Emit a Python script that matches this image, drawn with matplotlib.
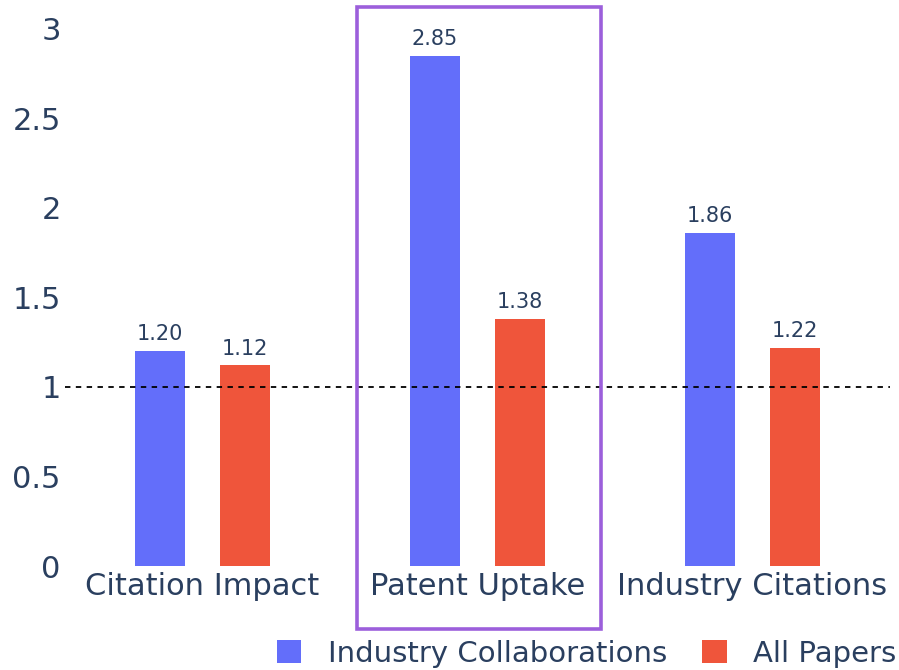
import matplotlib.pyplot as plt
from matplotlib.patches import Rectangle
import numpy as np

categories = ['Citation Impact', 'Patent Uptake', 'Industry Citations']
industry_collab = [1.20, 2.85, 1.86]
all_papers = [1.12, 1.38, 1.22]
series_names = ['Industry Collaborations', 'All Papers']
yticks = [0, 0.5, 1, 1.5, 2, 2.5, 3]
ytick_labels = ['0', '0.5', '1', '1.5', '2', '2.5', '3']

text_color = '#2a3f5f'
blue = '#636efa'
red = '#ef553b'

fig = plt.figure(figsize=(8.99, 6.70), dpi=100)
ax = fig.add_axes([0.0723, 0.1552, 0.9177, 0.8284])

x = np.arange(len(categories))
w = 0.18
b1 = ax.bar(x - 0.155, industry_collab, w, color=blue, label=series_names[0])
b2 = ax.bar(x + 0.155, all_papers, w, color=red, label=series_names[1])

for bars in (b1, b2):
    for bar in bars:
        ax.annotate(f'{bar.get_height():.2f}', (bar.get_x() + bar.get_width() / 2, bar.get_height()),
                    xytext=(0, 5), textcoords='offset points', ha='center', va='bottom',
                    fontsize=15, color=text_color)

ax.axhline(1, color='black', linestyle=(0, (3, 3)), linewidth=1.3, zorder=3)

# highlight box around the middle group
ax.add_patch(Rectangle((0.56, -0.35), 0.89, 3.47, fill=False, edgecolor='#9c5fdb',
                       linewidth=2.6, clip_on=False, zorder=4))

ax.set_xlim(-0.5, 2.5)
ax.set_ylim(0, 3.1)
ax.set_xticks(x)
ax.set_xticklabels(categories)
ax.set_yticks(yticks)
ax.set_yticklabels(ytick_labels)
ax.tick_params(length=0, labelsize=22, labelcolor=text_color)
ax.tick_params(axis='x', pad=4)
ax.tick_params(axis='y', pad=3)
for s in ax.spines.values():
    s.set_visible(False)

fig.legend(handles=[b1, b2], labels=series_names, loc='lower right', bbox_to_anchor=(1.026, -0.036),
           ncol=2, frameon=False, fontsize=21, labelcolor=text_color,
           handlelength=0.85, handleheight=0.85, handletextpad=0.9, columnspacing=1.2)

fig.savefig('out.png', dpi=100)
